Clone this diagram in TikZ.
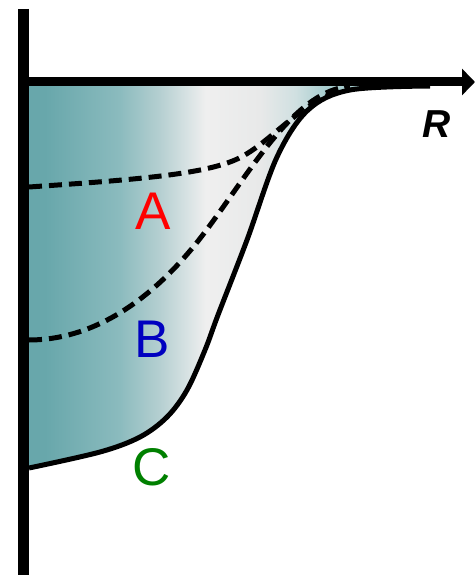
\documentclass[tikz,border=0pt]{standalone}
\usepackage{fontspec}
\setmainfont{Liberation Sans}
\usetikzlibrary{arrows.meta}
\definecolor{tealdark}{HTML}{68A7AB}
\definecolor{tealmid}{HTML}{8BBBBE}
\definecolor{tealsoft}{HTML}{B5CFD1}
\definecolor{paleteal}{HTML}{D5E1E2}
\definecolor{lightgrey}{HTML}{EFEFEF}
\definecolor{midgrey}{HTML}{E8E9E9}
\definecolor{greyteal}{HTML}{D0E0E1}
\definecolor{tealtop}{HTML}{A8CDCF}
\definecolor{myred}{HTML}{FF0000}
\definecolor{myblue}{HTML}{0000C0}
\definecolor{mygreen}{HTML}{008000}
\pgfdeclarehorizontalshading{tealfade}{100bp}{
  color(0bp)=(tealdark); color(25bp)=(tealdark); color(27bp)=(tealdark);
  color(36.3bp)=(tealmid); color(41.3bp)=(tealsoft); color(44.5bp)=(paleteal);
  color(47bp)=(lightgrey); color(53.8bp)=(midgrey); color(58.2bp)=(greyteal);
  color(61.9bp)=(tealtop); color(75bp)=(tealtop); color(100bp)=(tealtop)}
\tikzset{
	axisline/.style={line width=9pt, -{Triangle[length=13pt,width=26pt]}}
}
\tikzset{
	solidcurve/.style={line width=5pt, line join=round}
}
\tikzset{
	dashcurve/.style={line width=5pt, dash pattern=on 13pt off 7pt}
}
\tikzset{
	curvelabel/.style={inner sep=0pt, font=\fontsize{53}{53}\selectfont}
}

\begin{document}
\begin{tikzpicture}[x=1pt, y=-1pt]

			\useasboundingbox (0,0) rectangle (475,575);

			\begin{scope}
				\fill[shading=tealfade] (29,86) -- plot[smooth, tension=0.55] coordinates {
						(29,468) (100,452) (140,437) (167,417) (187,390) (205,350)
						(218,315) (247,240) (277,157) (308,110) (350,90) (430,86)} -- cycle;
			\end{scope}

			\begin{scope}
				\draw[dashcurve] (29,187) .. controls (130,180) and (200,175) .. (235,160)
					.. controls (270,145) and (300,100) .. (350,87);
				\draw[dashcurve] (29,340) .. controls (90,340) and (151,304) .. (205,232)
					.. controls (250,172) and (290,100) .. (340,88);
				\draw[solidcurve] plot[smooth, tension=0.55] coordinates {
						(29,468) (100,452) (140,437) (167,417) (187,390) (205,350)
						(218,315) (247,240) (277,157) (308,110) (350,90) (430,86)};
			\end{scope}

			\begin{scope}
				\coordinate (origin) at (18,82);
				\coordinate (rend) at (475,82);
				\coordinate (vtop) at (23.5,9);
				\coordinate (vbot) at (23.5,575);

				\draw[line width=11pt] (vtop) -- (vbot);
				\draw[axisline] (origin) -- (rend);

				\node[inner sep=0pt, font=\fontsize{39}{39}\selectfont\bfseries\itshape] (rlabel) at (437,124) {R};
				\node[curvelabel, myred] (alabel) at (153,211) {A};
				\node[curvelabel, myblue] (blabel) at (152,339) {B};
				\node[curvelabel, mygreen] (clabel) at (152,467) {C};
			\end{scope}

		\end{tikzpicture}
\end{document}
